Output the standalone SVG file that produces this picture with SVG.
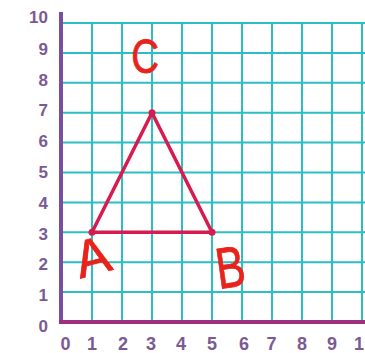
<svg xmlns="http://www.w3.org/2000/svg" width="365" height="353" viewBox="0 0 365 353">
<style>
.grid{stroke:#2bbfc3;stroke-width:2;fill:none}
.lbl{font-family:"Liberation Sans",Arial,sans-serif;font-weight:bold;fill:#7b5a93}
.ylbl{font-size:17px;text-anchor:end}
.xlbl{font-size:18px;text-anchor:middle}
.tri{stroke:#d81b4f;stroke-width:3.5;fill:none;stroke-linejoin:round}
.dot{fill:#d81b4f}
.hand{font-family:"Liberation Sans",Arial,sans-serif;fill:#e8231c;stroke:#e8231c;stroke-width:0.8;text-anchor:middle}
</style>
<rect width="365" height="353" fill="#ffffff"/>
<g id="grid">
<path class="grid" d="M92 23V322M122 23V322M152 23V322M182 23V322M212 23V322M242 23V322M272 23V322M302 23V322M332 23V322M362 23V322"/>
<path class="grid" d="M61 23H365M61 52.9H365M61 82.8H365M61 112.7H365M61 142.6H365M61 172.5H365M61 202.4H365M61 232.3H365M61 262.2H365M61 292.1H365"/>
</g>
<g id="axes">
<line x1="61" y1="12" x2="61" y2="324" stroke="#7a4e9f" stroke-width="4"/>
<line x1="59" y1="322" x2="365" y2="322" stroke="#9e2f7e" stroke-width="4"/>
</g>
<g id="y-labels" class="lbl ylbl">
<text x="48" y="23">10</text>
<text x="48" y="54.8">9</text>
<text x="48" y="85.6">8</text>
<text x="48" y="116.4">7</text>
<text x="48" y="147.2">6</text>
<text x="48" y="178">5</text>
<text x="48" y="208.8">4</text>
<text x="48" y="239.6">3</text>
<text x="48" y="270.4">2</text>
<text x="48" y="301.2">1</text>
<text x="48" y="332">0</text>
</g>
<g id="x-labels" class="lbl xlbl">
<text x="65.5" y="350">0</text>
<text x="92" y="350">1</text>
<text x="123" y="350">2</text>
<text x="151" y="350">3</text>
<text x="181" y="350">4</text>
<text x="212" y="350">5</text>
<text x="244" y="350">6</text>
<text x="271.5" y="350">7</text>
<text x="302" y="350">8</text>
<text x="332" y="350">9</text>
<text x="359" y="350">1</text>
</g>
<g id="connectors">
<polygon class="tri" points="92,232.3 212,232.3 152,112.7"/>
</g>
<g id="node-A">
<circle class="dot" cx="92" cy="232.3" r="3.5"/>
<text class="hand" font-size="52" transform="translate(97,274) rotate(-15)">A</text>
</g>
<g id="node-B">
<circle class="dot" cx="212" cy="232.3" r="3.5"/>
<text class="hand" font-size="58" transform="translate(233,287) rotate(-8) scale(0.75,1)">B</text>
</g>
<g id="node-C">
<circle class="dot" cx="152" cy="112.7" r="3.5"/>
<text class="hand" font-size="48" transform="translate(145,73) scale(0.8,1)">C</text>
</g>
</svg>
